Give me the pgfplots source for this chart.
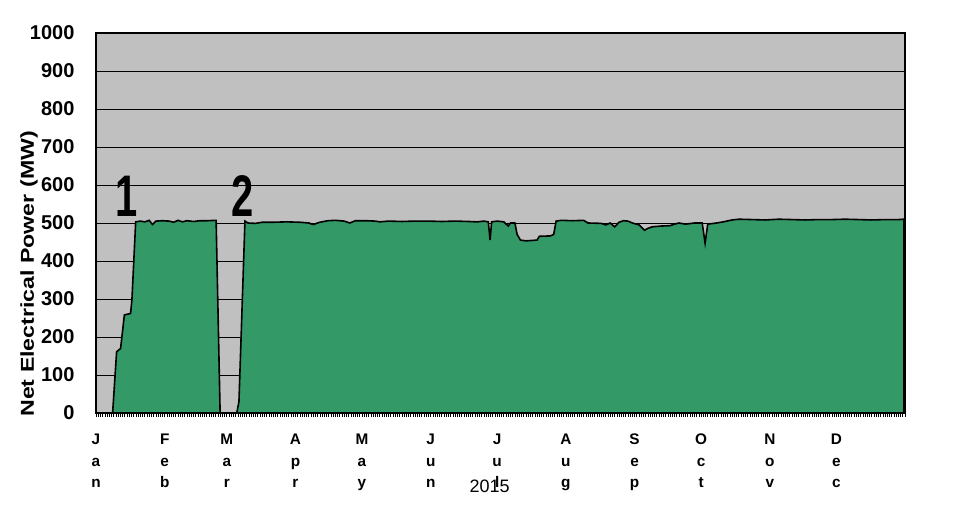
\documentclass[border=0pt]{standalone}
\usepackage{pgfplots}
\pgfplotsset{compat=1.18}
\usepackage{fontspec}
\setmainfont{Liberation Sans}
\definecolor{bggray}{RGB}{192,192,192}
\definecolor{plantgreen}{RGB}{51,153,102}
% month name as three stacked letters
\newcommand\ml[3]{\begin{tabular}[t]{@{}c@{}}#1\\#2\\#3\end{tabular}}
\begin{document}
\begin{tikzpicture}
\begin{axis}[
  scale only axis, width=606.75pt, height=285pt,
  xmin=0, xmax=365, ymin=0, ymax=1000,
  axis background/.style={fill=bggray},
  axis line style={black, line width=0.8pt},
  ytick={0,100,...,1000},
  ymajorgrids, major grid style={black, line width=0.6pt},
  ytick style={draw=none},
  yticklabel style={font=\fontsize{15}{15}\selectfont\bfseries, inner sep=0pt, xshift=-13pt,
    /pgf/number format/1000 sep={}},
  /pgf/number format/assume math mode=true,
  xtick pos=bottom,
  xtick={0,31,59,90,120,151,181,212,243,273,304,334},
  xticklabels={\ml Jan,\ml Feb,\ml Mar,\ml Apr,\ml May,\ml Jun,\ml Jul,\ml Aug,\ml Sep,\ml Oct,\ml Nov,\ml Dec},
  xticklabel style={font=\fontsize{11.5}{16.3}\selectfont\bfseries, inner sep=0pt, anchor=north, yshift=-9pt},
  minor xtick={0,1,...,365},
  tick align=outside,
  major tick length=3pt, minor tick length=3pt,
  every tick/.style={black, line width=0.5pt},
  clip=false,
]
\addplot[fill=plantgreen, draw=black, line width=1.2pt] coordinates {
(0,0) (7.5,0) (9.3,161) (11.1,170) (12.8,258) (15.6,262) (16.2,297) (17.9,503)
(20,505) (22,503) (24,507) (25.5,496) (27,505) (30,506) (33,505) (35,502)
(37,507) (39,503) (41,506) (44,504) (47,506) (50,506) (54.2,507) (56,0)
(63.5,0) (64.5,30) (67.2,505) (68.5,500) (72,499) (75,502) (80,502) (86,503)
(92,502) (96,500) (98,496) (101,502) (104.6,506) (108,507) (112,505) (114.5,500)
(117,506) (122,506) (126,505) (128,503) (132,505) (138,504) (144,505) (150,505)
(156,504) (162,505) (168,504) (172,503) (175,505) (177,503) (177.8,455) (178.5,503)
(181,505) (184,503) (186,492) (187,500) (189,500) (190,470) (191.5,455) (194,453)
(199,455) (200,465) (205,466) (206.5,470) (207.6,505) (210,507) (215,506) (220,507)
(222,500) (228,499) (230,495) (232,500) (234,490) (236,502) (238,506) (240,505)
(242,500) (245,495) (247.5,481) (249,486) (251,490) (255,492) (259,493) (261,497)
(263,500) (266,497) (270,500) (273.5,500) (274.8,447) (276,497) (280,500) (283,503)
(287,508) (290,510) (296,509) (302,508) (308,510) (314,509) (320,508) (326,509)
(332,509) (338,510) (344,509) (350,508) (356,509) (362,509) (364.5,510) (364.5,0)
} \closedcycle;
\node[font=\fontsize{44}{44}\selectfont\bfseries, xscale=0.68, anchor=base, inner sep=0pt] at (axis cs:14,516) {1};
\node[font=\fontsize{44}{44}\selectfont\bfseries, xscale=0.68, anchor=base, inner sep=0pt] at (axis cs:66.1,516) {2};
\node[font=\fontsize{13.5}{13.5}\selectfont, anchor=base, inner sep=0pt] at (axis cs:177.6,-210.5) {2015};
\end{axis}
\node[font=\fontsize{14}{14}\selectfont\bfseries, rotate=90, xscale=1.24, anchor=base west, inner sep=0pt] at (-46.5pt,-3pt) {Net Electrical Power (MW)};
\pgfresetboundingbox
\path (-72pt,-87pt) rectangle (659.25pt,309.75pt);
\end{tikzpicture}
\end{document}
